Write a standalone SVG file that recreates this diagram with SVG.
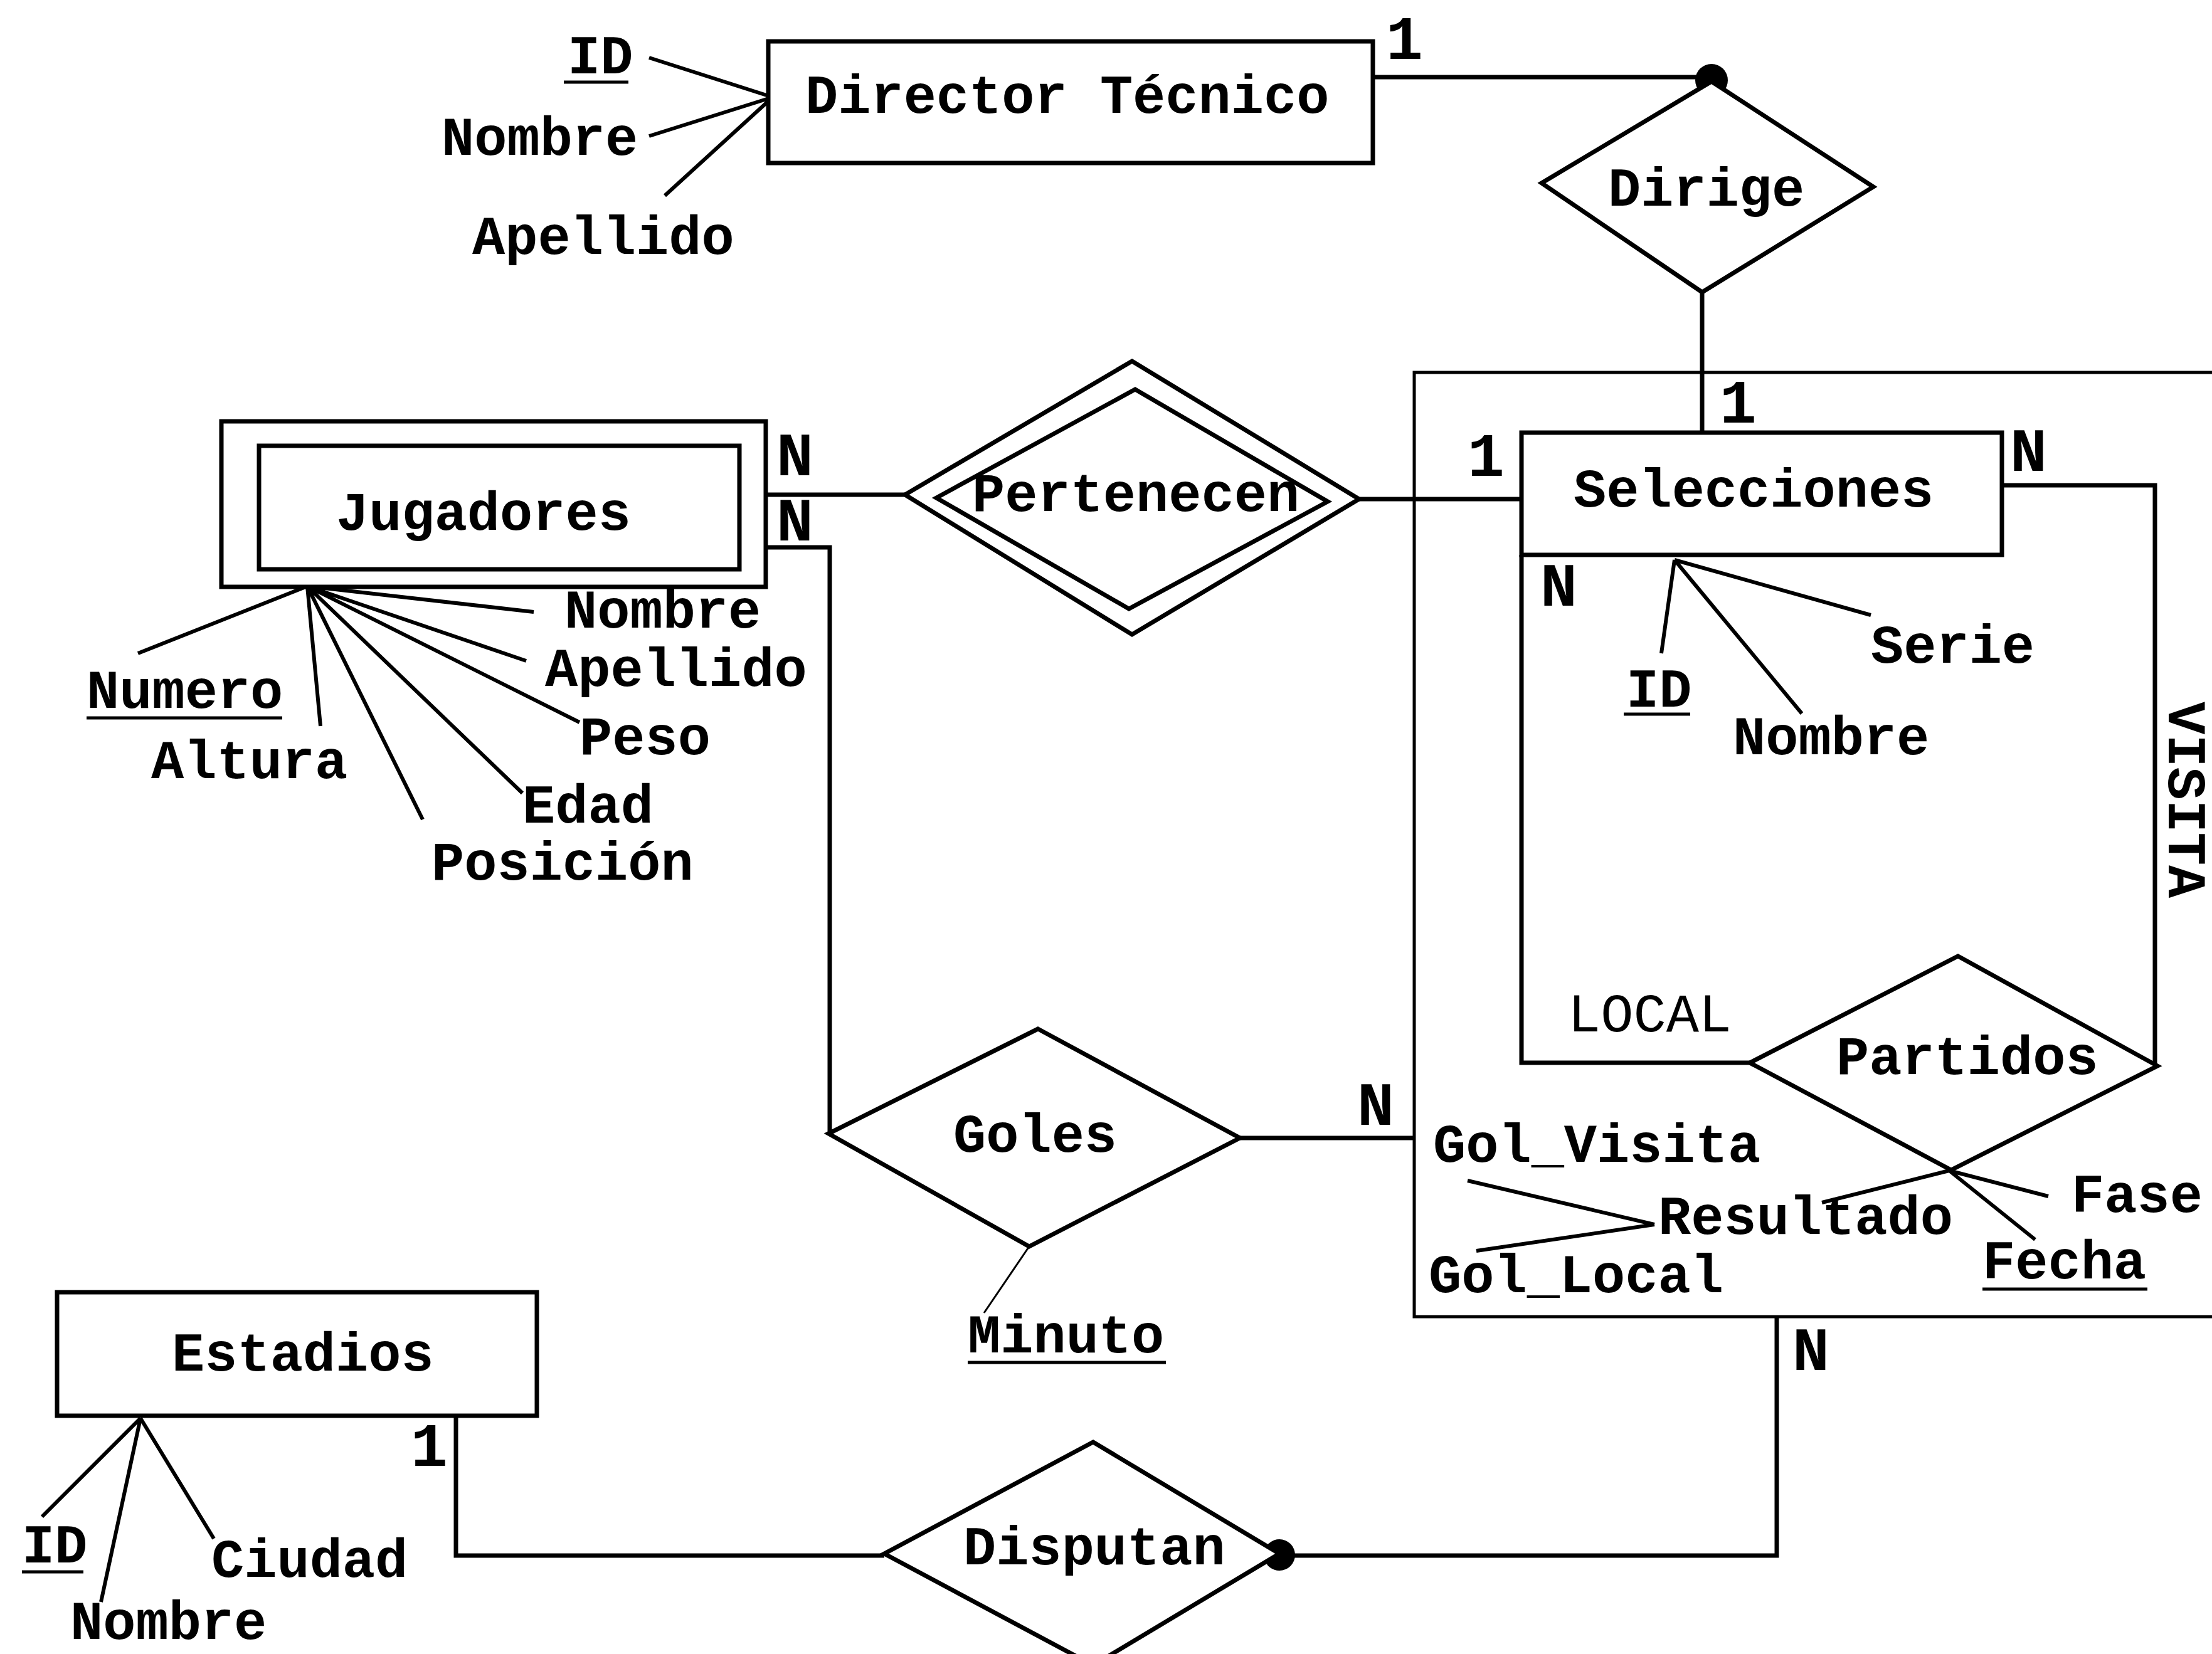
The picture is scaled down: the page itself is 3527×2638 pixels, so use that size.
<svg xmlns="http://www.w3.org/2000/svg" width="3527" height="2638" viewBox="0 0 3527 2638">
<style>
.t{font-family:"Liberation Mono","Courier New",monospace;font-size:87px;font-weight:bold;fill:#000}
.r{font-family:"Liberation Mono","Courier New",monospace;font-size:87px;font-weight:normal;fill:#000}
.n{font-family:"Liberation Mono","Courier New",monospace;font-size:98px;font-weight:bold;fill:#000}
.o{font-family:"Liberation Mono","Courier New",monospace;font-size:98px;font-weight:bold;fill:#000}
.sh{fill:#fff;stroke:#000;stroke-width:7}
.ln{fill:none;stroke:#000;stroke-width:7}
.tl{fill:none;stroke:#000;stroke-width:5}
.ul{stroke:#000;stroke-width:5}
</style>
<rect width="3527" height="2638" fill="#fff"/>
<g id="connectors">
<path class="ln" d="M2189,123 H2729"/>
<path class="ln" d="M2714,466 V690"/>
<path class="ln" d="M2167,796 H2426"/>
<path class="ln" d="M1221,789 H1443"/>
<path class="ln" d="M1221,873 H1323 V1808"/>
<path class="ln" d="M1977,1815 H2255"/>
<path class="ln" d="M3192,774 H3436 V1700"/>
<path class="ln" d="M2426,885 V1695 H2790"/>
<path class="ln" d="M2833,2100 V2481 H2040"/>
<path class="ln" d="M727,2258 V2481 H1410"/>
<path class="tl" d="M3527,594 H2255 V2100 H3527"/>
<circle cx="2729" cy="128" r="26" fill="#000"/>
<circle cx="2040" cy="2480" r="25" fill="#000"/>
</g>
<g id="attr-lines" fill="none" stroke="#000" stroke-width="6">
<path d="M1035,92 L1232,155 M1035,217 L1232,155 M1060,312 L1232,155"/>
<path d="M490,935 L220,1042 M490,935 L511,1158 M490,935 L674,1307 M490,935 L833,1265 M490,935 L924,1152 M490,935 L839,1054 M490,935 L851,976"/>
<path d="M2670,893 L2649,1042 M2670,893 L2873,1138 M2670,893 L2983,981"/>
<path d="M3108,1867 L2905,1918 M3108,1867 L3266,1908 M3108,1867 L3245,1977"/>
<path d="M2638,1953 L2340,1883 M2638,1953 L2354,1995"/>
<path d="M224,2262 L67,2419 M224,2262 L161,2555 M224,2262 L341,2454"/>
<path stroke-width="3" d="M1641,1988 L1569,2094"/>
</g>
<g id="director">
<rect class="sh" x="1225" y="66" width="964" height="194"/>
<text class="t" x="1284" y="180">Director Técnico</text>
<text class="t" x="905" y="117">ID</text>
<line class="ul" x1="899" y1="131" x2="1002" y2="131"/>
<text class="t" x="704" y="247">Nombre</text>
<text class="t" x="753" y="405">Apellido</text>
<text class="o" x="2210" y="94">1</text>
</g>
<g id="dirige">
<polygon class="sh" points="2729,130 2987,298 2714,466 2458,292"/>
<text class="t" x="2564" y="328">Dirige</text>
</g>
<g id="jugadores">
<rect class="sh" x="353" y="672" width="868" height="264"/>
<rect class="sh" x="413" y="711" width="766" height="197"/>
<text class="t" x="536" y="845">Jugadores</text>
<text class="n" x="1238" y="758">N</text>
<text class="n" x="1238" y="862">N</text>
<text class="t" x="900" y="1001">Nombre</text>
<text class="t" x="869" y="1094">Apellido</text>
<text class="t" x="924" y="1203">Peso</text>
<text class="t" x="833" y="1312">Edad</text>
<text class="t" x="688" y="1403">Posición</text>
<text class="t" x="241" y="1241">Altura</text>
<text class="t" x="138" y="1129">Numero</text>
<line class="ul" x1="138" y1="1145" x2="450" y2="1145"/>
</g>
<g id="pertenecen">
<polygon class="sh" points="1805,576 2167,796 1805,1012 1443,789"/>
<polygon class="sh" points="1810,621 2117,800 1800,971 1493,794"/>
<text class="t" x="1550" y="815">Pertenecen</text>
</g>
<g id="selecciones">
<rect class="sh" x="2426" y="690" width="766" height="195"/>
<text class="t" x="2509" y="808">Selecciones</text>
<text class="o" x="2742" y="674">1</text>
<text class="o" x="2340" y="759">1</text>
<text class="n" x="3205" y="751">N</text>
<text class="n" x="2456" y="966">N</text>
<text class="t" x="2593" y="1127">ID</text>
<line class="ul" x1="2589" y1="1139" x2="2695" y2="1139"/>
<text class="t" x="2763" y="1203">Nombre</text>
<text class="t" x="2983" y="1057">Serie</text>
<text class="r" x="2500" y="1645">LOCAL</text>
<text class="t" transform="translate(3458,1119) rotate(90)">VISITA</text>
</g>
<g id="partidos">
<polygon class="sh" points="3122,1525 3440,1700 3111,1866 2790,1695"/>
<text class="t" x="2928" y="1713">Partidos</text>
<text class="t" x="2644" y="1968">Resultado</text>
<text class="t" x="3303" y="1933">Fase</text>
<text class="t" x="3161" y="2039">Fecha</text>
<line class="ul" x1="3161" y1="2056" x2="3424" y2="2056"/>
<text class="t" x="2285" y="1853">Gol_Visita</text>
<text class="t" x="2278" y="2061">Gol_Local</text>
</g>
<g id="goles">
<polygon class="sh" points="1655,1641 1977,1815 1641,1988 1321,1808"/>
<text class="t" x="1520" y="1837">Goles</text>
<text class="n" x="2164" y="1794">N</text>
<text class="t" x="1543" y="2157">Minuto</text>
<line class="ul" x1="1543" y1="2173" x2="1859" y2="2173"/>
</g>
<g id="estadios">
<rect class="sh" x="91" y="2061" width="765" height="197"/>
<text class="t" x="274" y="2186">Estadios</text>
<text class="o" x="655" y="2338">1</text>
<text class="t" x="35" y="2492">ID</text>
<line class="ul" x1="35" y1="2507" x2="133" y2="2507"/>
<text class="t" x="337" y="2515">Ciudad</text>
<text class="t" x="112" y="2614">Nombre</text>
</g>
<g id="disputan">
<polygon class="sh" points="1743,2300 2040,2478 1743,2656 1410,2478"/>
<text class="t" x="1536" y="2495">Disputan</text>
<text class="n" x="2858" y="2185">N</text>
</g>
</svg>
